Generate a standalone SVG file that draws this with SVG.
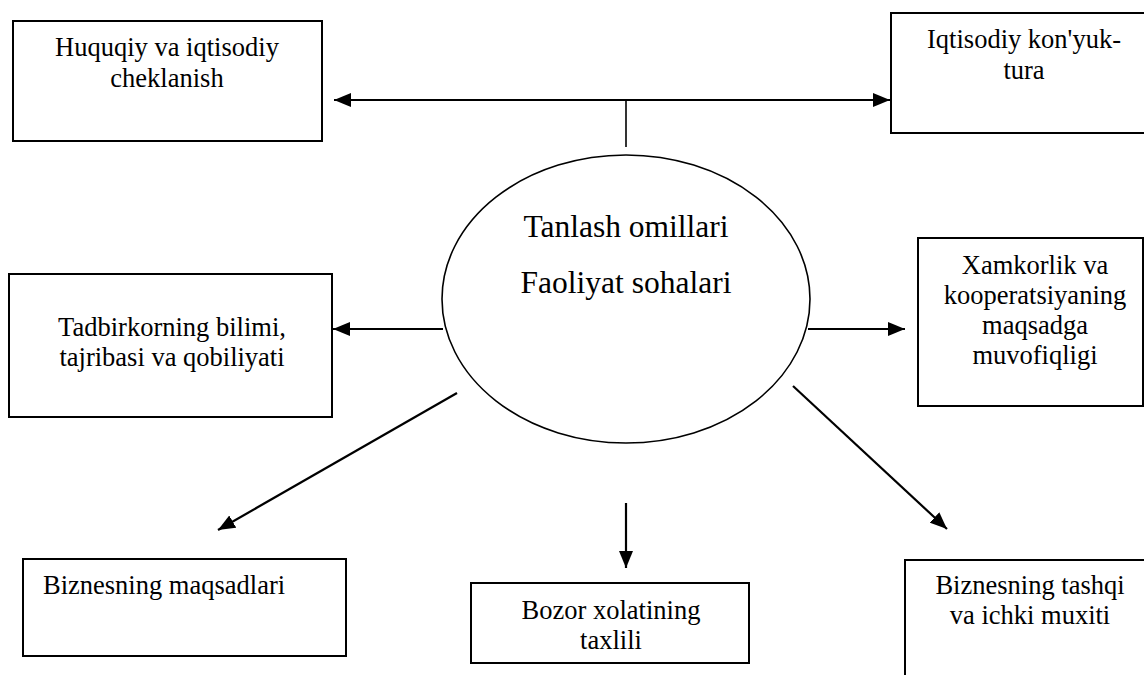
<svg xmlns="http://www.w3.org/2000/svg" width="1144" height="675" viewBox="0 0 1144 675">
<defs>
<marker id="ah" viewBox="0 0 17 14" refX="17" refY="7" markerWidth="17" markerHeight="14" markerUnits="userSpaceOnUse" orient="auto-start-reverse">
<path d="M0,0 L17,7 L0,14 z" fill="#000"/>
</marker>
<style>
.box{fill:#fff;stroke:#000;stroke-width:2}
.t{font-family:"Liberation Serif","Times New Roman",serif;font-size:26.5px;fill:#000;text-anchor:middle}
.tc{font-family:"Liberation Serif","Times New Roman",serif;font-size:31.5px;fill:#000;text-anchor:middle}
.c{stroke:#000;stroke-width:2.2;fill:none}
</style>
</defs>
<rect width="1144" height="675" fill="#fff"/>
<g id="connectors">
<line class="c" x1="334" y1="100" x2="890" y2="100" marker-start="url(#ah)" marker-end="url(#ah)"/>
<line class="c" x1="626" y1="100" x2="626" y2="147" style="stroke-width:1.6"/>
<line class="c" x1="443" y1="329" x2="333" y2="329" marker-end="url(#ah)"/>
<line class="c" x1="808" y1="329" x2="905" y2="329" marker-end="url(#ah)"/>
<line class="c" x1="457" y1="393" x2="218" y2="530" marker-end="url(#ah)"/>
<line class="c" x1="626" y1="503" x2="626" y2="568" marker-end="url(#ah)"/>
<line class="c" x1="793" y1="386" x2="947" y2="529" marker-end="url(#ah)"/>
</g>
<g id="center">
<ellipse cx="626" cy="299" rx="184" ry="144" fill="#fff" stroke="#000" stroke-width="1.6"/>
<text class="tc" x="626" y="237">Tanlash omillari</text>
<text class="tc" x="626" y="293">Faoliyat sohalari</text>
</g>
<g id="huquqiy">
<rect class="box" x="13" y="21" width="309" height="120"/>
<text class="t" x="167" y="56">Huquqiy va iqtisodiy</text>
<text class="t" x="167" y="87">cheklanish</text>
</g>
<g id="konyuktura">
<rect class="box" x="891" y="13" width="270" height="120"/>
<text class="t" x="1024" y="48">Iqtisodiy kon'yuk-</text>
<text class="t" x="1024" y="79">tura</text>
</g>
<g id="tadbirkor">
<rect class="box" x="9" y="274" width="323" height="143"/>
<text class="t" x="172" y="336">Tadbirkorning bilimi,</text>
<text class="t" x="172" y="366">tajribasi va qobiliyati</text>
</g>
<g id="xamkorlik">
<rect class="box" x="918" y="238" width="225" height="168"/>
<text class="t" x="1035" y="274">Xamkorlik va</text>
<text class="t" x="1035" y="304">kooperatsiyaning</text>
<text class="t" x="1035" y="334">maqsadga</text>
<text class="t" x="1035" y="364">muvofiqligi</text>
</g>
<g id="maqsadlar">
<rect class="box" x="23" y="559" width="323" height="97"/>
<text class="t" x="43" y="594" style="text-anchor:start">Biznesning maqsadlari</text>
</g>
<g id="bozor">
<rect class="box" x="471" y="583" width="278" height="80"/>
<text class="t" x="611" y="619">Bozor xolatining</text>
<text class="t" x="611" y="649">taxlili</text>
</g>
<g id="muxit">
<rect class="box" x="905" y="560" width="250" height="130"/>
<text class="t" x="1030" y="594">Biznesning tashqi</text>
<text class="t" x="1030" y="624">va ichki muxiti</text>
</g>
</svg>
